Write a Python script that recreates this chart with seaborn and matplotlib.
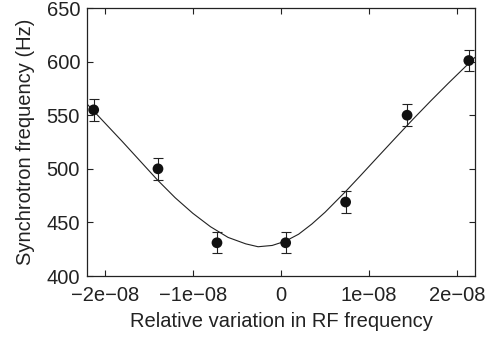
import numpy as np
import pandas as pd
import seaborn as sns
import matplotlib
matplotlib.use("Agg")
import matplotlib.pyplot as plt

# measured points (relative RF variation, synchrotron frequency in Hz, error)
rf_var = [-2.124e-8, -1.395e-8, -0.726e-8, 0.053e-8, 0.733e-8, 1.430e-8, 2.130e-8]
fs_meas = [555, 500, 431, 431, 469, 550, 601]
fs_err = [10, 10, 10, 10, 10, 10, 10]

# fitted curve
fit_x = [-2.20e-8, -2.00e-8, -1.80e-8, -1.60e-8, -1.40e-8, -1.20e-8, -1.00e-8,
         -0.80e-8, -0.60e-8, -0.40e-8, -0.26e-8, -0.10e-8, 0.05e-8, 0.20e-8,
         0.35e-8, 0.50e-8, 0.73e-8, 0.90e-8, 1.10e-8, 1.30e-8, 1.50e-8,
         1.70e-8, 1.90e-8, 2.10e-8, 2.20e-8]
fit_y = [560.5, 543.0, 525.5, 507.5, 489.5, 473.0, 458.5,
         446.0, 436.0, 430.0, 427.3, 428.5, 432.5, 439.0,
         448.5, 459.5, 478.6, 493.5, 511.3, 529.0, 546.5,
         563.5, 580.0, 596.0, 604.0]

xticks = [-2e-8, -1e-8, 0, 1e-8, 2e-8]
xtick_labels = ["\u22122e\u221208", "\u22121e\u221208", "0", "1e\u221208", "2e\u221208"]
yticks = [400, 450, 500, 550, 600, 650]

sns.set_style("ticks")
plt.rcParams['font.family'] = ['Liberation Sans', 'DejaVu Sans']

fig = plt.figure(figsize=(4.98, 3.41), dpi=100)
ax = fig.add_axes([0.1747, 0.1906, 0.7791, 0.7859])

fitdf = pd.DataFrame({'x': fit_x, 'y': fit_y})
sns.lineplot(data=fitdf, x='x', y='y', ax=ax, color='#222222', linewidth=0.8,
             sort=False)

ax.errorbar(rf_var, fs_meas, yerr=fs_err, fmt='none', ecolor='#222222',
            elinewidth=0.8, capsize=3.5, capthick=0.8)
measdf = pd.DataFrame({'x': rf_var, 'y': fs_meas})
sns.scatterplot(data=measdf, x='x', y='y', ax=ax, color='#111111', s=60,
                edgecolor='none', zorder=5)

ax.set_xlim(-2.2e-8, 2.2e-8)
ax.set_ylim(400, 650)
ax.set_xticks(xticks)
ax.set_xticklabels(xtick_labels)
ax.set_yticks(yticks)
ax.tick_params(direction='in', length=4, width=0.8, top=True, right=True,
               labelsize=14.5, colors='#222222')
ax.tick_params(axis='x', pad=7)
ax.tick_params(axis='y', pad=5)
for sp in ax.spines.values():
    sp.set_visible(True)
    sp.set_linewidth(0.9)
    sp.set_color('#222222')

ax.set_xlabel('Relative variation in RF frequency', fontsize=14.5, color='#222222', labelpad=5)
ax.set_ylabel('Synchrotron frequency (Hz)', fontsize=14.5, color='#222222', labelpad=8)

plt.savefig('out.png', dpi=100)
plt.close()
